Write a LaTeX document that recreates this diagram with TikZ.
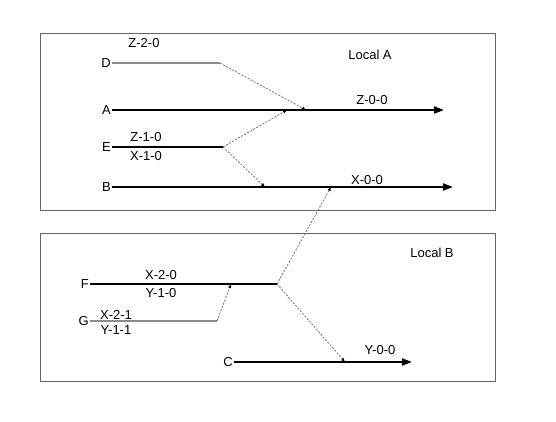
\documentclass[tikz,border=0pt]{standalone}
\usepackage{fontspec}
\setmainfont{Liberation Sans}
\usetikzlibrary{arrows.meta}
\begin{document}
\begin{tikzpicture}[x=1pt,y=-1pt,
  lbl/.style={font=\fontsize{13}{15}\selectfont, inner sep=1pt},
  frame/.style={draw=black!60, line width=0.9pt},
  mainline/.style={line width=2pt, -{Triangle[length=10pt,width=7pt]}},
  plainline/.style={line width=2pt},
  greyline/.style={draw=black!45, line width=1.5pt},
  link/.style={draw=black!55, line width=0.8pt, dash pattern=on 2pt off 1.5pt, -{Latex[black,length=4pt,width=3.5pt]}}]
\useasboundingbox (0,0) rectangle (556,421);
% frames
\draw[frame] (40,33) rectangle (495,210);
\draw[frame] (40,233) rectangle (495,381);
\node[lbl] (la) at (370,55) {Local A};
\node[lbl] (lb) at (432,253) {Local B};
% D
\node[lbl, anchor=east] (D) at (112,63) {D};
\coordinate (Dend) at (220,63);
\draw[greyline] (D.east) -- (Dend);
\node[lbl] (z20) at (144,43) {Z-2-0};
% A
\node[lbl, anchor=east] (A) at (112,110) {A};
\coordinate (Aend) at (444,110);
\draw[mainline] (A.east) -- (Aend);
\node[lbl] (z00) at (372,100) {Z-0-0};
\coordinate (Ain1) at (306,110);
\coordinate (Ain2) at (287,110);
% E
\node[lbl, anchor=east] (E) at (112,147) {E};
\coordinate (Eend) at (223,147);
\draw[plainline] (E.east) -- (Eend);
\node[lbl] (z10) at (146,137) {Z-1-0};
\node[lbl] (x10) at (146,156) {X-1-0};
% B
\node[lbl, anchor=east] (B) at (112,187) {B};
\coordinate (Bend) at (453,187);
\draw[mainline] (B.east) -- (Bend);
\node[lbl] (x00) at (367,180) {X-0-0};
\coordinate (Bin1) at (265,187);
\coordinate (Bin2) at (331,187);
% F
\node[lbl, anchor=east] (F) at (90,284) {F};
\coordinate (Fend) at (277,284);
\draw[plainline] (F.east) -- (Fend);
\node[lbl] (x20) at (161,275) {X-2-0};
\node[lbl] (y10) at (161,293) {Y-1-0};
\coordinate (Fin) at (231,284);
% G
\node[lbl, anchor=east] (G) at (90,321) {G};
\coordinate (Gend) at (217,321);
\draw[greyline] (G.east) -- (Gend);
\node[lbl] (x21) at (116,315) {X-2-1};
\node[lbl] (y11) at (116,330) {Y-1-1};
% C
\node[lbl, anchor=east] (C) at (234,362) {C};
\coordinate (Cend) at (412,362);
\draw[mainline] (C.east) -- (Cend);
\node[lbl] (y00) at (380,350) {Y-0-0};
\coordinate (Cin) at (345,362);
% dashed links
\draw[link] (Dend) -- (Ain1);
\draw[link] (Eend) -- (Ain2);
\draw[link] (Eend) -- (Bin1);
\draw[link] (Fend) -- (Bin2);
\draw[link] (Fend) -- (Cin);
\draw[link] (Gend) -- (Fin);
\end{tikzpicture}
\end{document}
